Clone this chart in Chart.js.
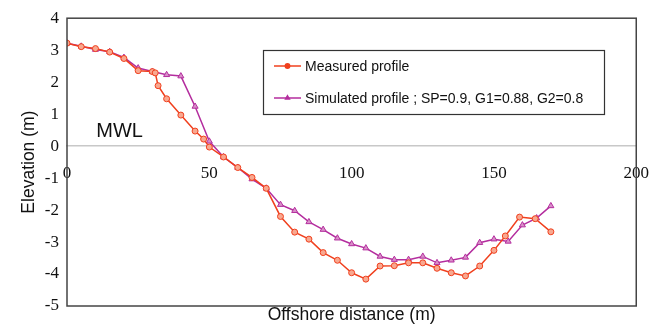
<!DOCTYPE html>
<html>
<head>
<meta charset="utf-8">
<script src="https://cdn.jsdelivr.net/npm/chart.js@4.4.1/dist/chart.umd.min.js"></script>
<style>
  body { margin: 0; background: #fff; }
  #wrap { width: 666px; height: 326px; }
</style>
</head>
<body>
<div id="wrap"><canvas id="myChart" width="666" height="326"></canvas></div>
<script>
// measured profile (x = offshore distance, y = elevation)
const measuredX = [0, 5, 10, 15, 20, 25, 30, 31, 32, 35, 40, 45, 48, 50, 55, 60, 65, 70, 75, 80, 85, 90, 95, 100, 105, 110, 115, 120, 125, 130, 135, 140, 145, 150, 154, 159, 164.5, 170];
const measuredY = [3.22, 3.11, 3.05, 2.94, 2.74, 2.36, 2.33, 2.29, 1.89, 1.48, 0.97, 0.47, 0.22, -0.03, -0.34, -0.67, -0.98, -1.32, -2.20, -2.69, -2.91, -3.33, -3.57, -3.96, -4.16, -3.75, -3.74, -3.65, -3.65, -3.82, -3.96, -4.06, -3.75, -3.26, -2.81, -2.22, -2.27, -2.68];

// simulated profile
const simulatedX = [0, 5, 10, 15, 20, 25, 30, 35, 40, 45, 50, 55, 60, 65, 70, 75, 80, 85, 90, 95, 100, 105, 110, 115, 120, 125, 130, 135, 140, 145, 150, 155, 160, 165, 170];
const simulatedY = [3.22, 3.12, 3.02, 2.95, 2.77, 2.44, 2.33, 2.23, 2.19, 1.24, 0.15, -0.34, -0.67, -1.03, -1.32, -1.83, -2.02, -2.37, -2.61, -2.88, -3.06, -3.19, -3.45, -3.55, -3.55, -3.45, -3.65, -3.57, -3.48, -3.02, -2.91, -2.98, -2.47, -2.25, -1.87];

const seriesNames = ['Measured profile', 'Simulated profile ; SP=0.9, G1=0.88, G2=0.8'];
const xTicks = [0, 50, 100, 150, 200];
const yTicks = [-5, -4, -3, -2, -1, 0, 1, 2, 3, 4];

const RED = '#f0401e';
const MAG = '#b42d9e';

function toPoints(xs, ys) {
    return xs.map((x, i) => ({ x: x, y: ys[i] }));
}

// frame, legend box and MWL label
const extras = {
    id: 'extras',
    afterDraw(chart) {
        const ctx = chart.ctx;
        const a = chart.chartArea;
        ctx.save();
        ctx.strokeStyle = '#444';
        ctx.lineWidth = 1.5;
        ctx.strokeRect(a.left, a.top, a.right - a.left, a.bottom - a.top);

        // MWL text
        const xs = chart.scales.x, ys = chart.scales.y;
        ctx.fillStyle = '#111';
        ctx.font = '20px "Liberation Sans", Arial, sans-serif';
        ctx.textAlign = 'center';
        ctx.textBaseline = 'middle';
        ctx.fillText('MWL', xs.getPixelForValue(18.5), ys.getPixelForValue(0.45));

        // legend
        ctx.lineWidth = 1.2;
        ctx.strokeStyle = '#333';
        ctx.strokeRect(263.5, 50.5, 341, 64);
        ctx.font = '14px "Liberation Sans", Arial, sans-serif';
        ctx.textAlign = 'left';
        const rows = [
            { y: 66, color: RED, style: 'circle' },
            { y: 98, color: MAG, style: 'triangle' }
        ];
        rows.forEach((r, i) => {
            ctx.strokeStyle = r.color;
            ctx.lineWidth = 1.5;
            ctx.beginPath();
            ctx.moveTo(274, r.y);
            ctx.lineTo(301, r.y);
            ctx.stroke();
            ctx.fillStyle = r.color;
            Chart.helpers.drawPoint(ctx, { pointStyle: r.style, radius: 2.2, borderWidth: 1 }, 287.5, r.y);
            ctx.fillStyle = '#111';
            ctx.fillText(seriesNames[i], 305, r.y + 1);
        });
        ctx.restore();
    }
};

const ctx = document.getElementById('myChart').getContext('2d');
new Chart(ctx, {
    type: 'scatter',
    data: {
        datasets: [{
            label: seriesNames[0],
            data: toPoints(measuredX, measuredY),
            showLine: true,
            borderColor: RED,
            backgroundColor: '#f8a890',
            borderWidth: 1.5,
            pointStyle: 'circle',
            pointRadius: 3,
            pointBorderWidth: 1,
            pointBorderColor: RED
        }, {
            label: seriesNames[1],
            data: toPoints(simulatedX, simulatedY),
            showLine: true,
            borderColor: MAG,
            backgroundColor: '#d890c8',
            borderWidth: 1.5,
            pointStyle: 'triangle',
            pointRadius: 3.5,
            pointBorderWidth: 1,
            pointBorderColor: MAG
        }]
    },
    options: {
        responsive: false,
        animation: false,
        layout: { padding: { left: 19, top: 14, right: 28, bottom: 0 } },
        plugins: { legend: { display: false }, tooltip: { enabled: false } },
        scales: {
            x: {
                type: 'linear',
                position: { y: 0 },
                min: 0, max: 200,
                afterBuildTicks: s => { s.ticks = xTicks.map(v => ({ value: v })); },
                ticks: { color: '#111', padding: 17, font: { family: '"Liberation Serif", "Times New Roman", serif', size: 17 } },
                grid: { display: false, drawTicks: false },
                border: { display: true, color: '#c8c8c8', width: 1.5 }
            },
            xb: {
                type: 'linear',
                position: 'bottom',
                axis: 'x',
                min: 0, max: 200,
                ticks: { display: false },
                grid: { display: false, drawTicks: false },
                border: { display: false },
                title: { display: true, text: 'Offshore distance (m)', color: '#111', padding: { top: 0, bottom: 0 }, font: { family: '"Liberation Sans", Arial, sans-serif', size: 17.5 } },
                afterFit: s => { s.height = 20; }
            },
            y: {
                min: -5, max: 4,
                afterBuildTicks: s => { s.ticks = yTicks.map(v => ({ value: v })); },
                ticks: { color: '#111', padding: 8, font: { family: '"Liberation Serif", "Times New Roman", serif', size: 17 } },
                grid: { display: false, drawTicks: false },
                border: { display: false },
                title: { display: true, text: 'Elevation (m)', color: '#111', padding: { top: 0, bottom: 0 }, font: { family: '"Liberation Sans", Arial, sans-serif', size: 17.5 } },
                afterFit: s => { s.width = 48; }
            }
        }
    },
    plugins: [extras]
});
</script>
</body>
</html>
